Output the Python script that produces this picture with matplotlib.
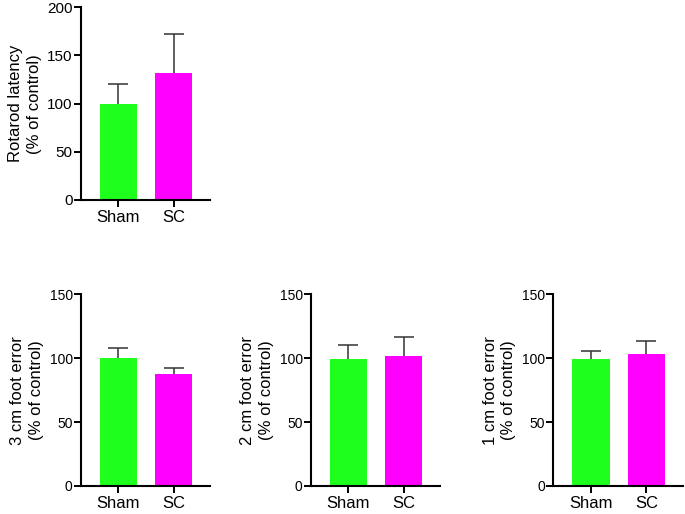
import numpy as np
import matplotlib.pyplot as plt

plt.rcParams['font.family'] = ['Liberation Sans', 'DejaVu Sans']

groups = ["Sham", "SC"]
colors = ["#1eff1e", "#ff00ff"]

rotarod_mean = [100, 132]
rotarod_err = [20, 40]

cm3_mean = [100, 87.5]
cm3_err = [8, 4.5]

cm2_mean = [99.5, 102]
cm2_err = [10.5, 14.5]

cm1_mean = [99.5, 103.5]
cm1_err = [6, 10]

panels = [
    # (axes rect, mean, err, ymax, ylabel, tick font size)
    ([0.1182, 0.6109, 0.1883, 0.3749], rotarod_mean, rotarod_err, 200,
     "Rotarod latency\n(% of control)", 11),
    ([0.1182, 0.0545, 0.1883, 0.3730], cm3_mean, cm3_err, 150,
     "3 cm foot error\n(% of control)", 10),
    ([0.4540, 0.0545, 0.1883, 0.3730], cm2_mean, cm2_err, 150,
     "2 cm foot error\n(% of control)", 10),
    ([0.8078, 0.0545, 0.1893, 0.3730], cm1_mean, cm1_err, 150,
     "1 cm foot error\n(% of control)", 10),
]

fig = plt.figure(figsize=(6.85, 5.14), dpi=100)

for rect, mean, err, ymax, ylabel, fs in panels:
    ax = fig.add_axes(rect)
    x = range(len(groups))
    ax.bar(x, mean, width=0.67, color=colors, zorder=2)
    _, caps, _ = ax.errorbar(x, mean, yerr=[[0, 0], err], fmt="none",
                             ecolor="#333333", elinewidth=1.1, capsize=7.5,
                             capthick=1.1, zorder=1)
    # only the upper cap is shown
    for cap in caps:
        if np.allclose(cap.get_ydata(), mean):
            cap.set_visible(False)
    ax.set_xlim(-0.68, 1.66)
    ax.set_ylim(0, ymax)
    ax.set_yticks(range(0, ymax + 1, 50))
    ax.set_xticks(list(x))
    ax.set_xticklabels(groups, fontsize=12)
    ax.tick_params(axis="y", labelsize=fs, length=5, width=1.4, pad=1)
    ax.tick_params(axis="x", length=5, width=1.4, pad=2)
    for side in ["top", "right"]:
        ax.spines[side].set_visible(False)
    for side in ["left", "bottom"]:
        ax.spines[side].set_linewidth(1.5)
    ax.set_ylabel(ylabel, fontsize=12, labelpad=4, linespacing=1.3)

fig.savefig("out.png", dpi=100)
